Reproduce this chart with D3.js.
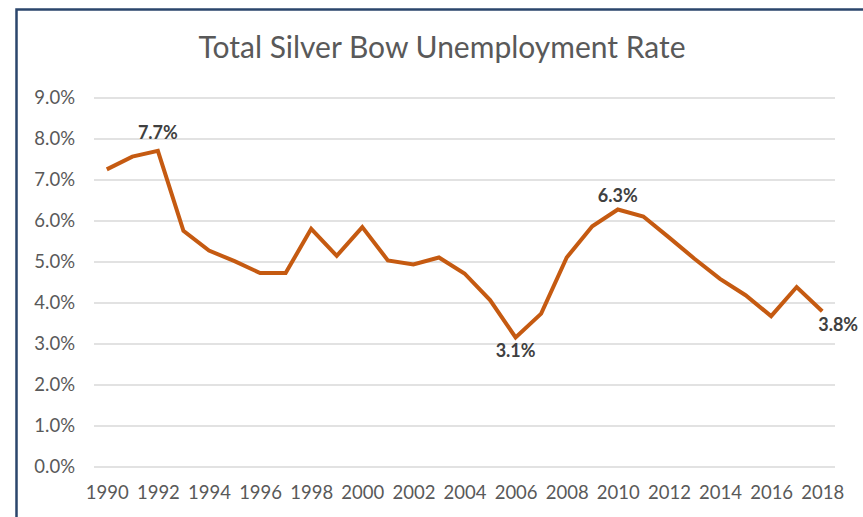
<!DOCTYPE html>
<html>
<head>
<meta charset="utf-8">
<script src="https://cdn.jsdelivr.net/npm/d3@7"></script>
<style>
  body { margin: 0; background: #fff; }
  svg { display: block; font-family: Lato, "Open Sans", sans-serif; }
</style>
</head>
<body>
<div id="chart"></div>
<script>
const years = d3.range(1990, 2019);
const rates = [7.26, 7.57, 7.71, 5.76, 5.28, 5.02, 4.73, 4.73, 5.81, 5.15,
               5.85, 5.04, 4.94, 5.11, 4.72, 4.07, 3.16, 3.74, 5.11, 5.87,
               6.28, 6.11, 5.60, 5.08, 4.59, 4.19, 3.68, 4.39, 3.80];
const yTicks = [0, 1, 2, 3, 4, 5, 6, 7, 8, 9];
const xTickYears = d3.range(1990, 2019, 2);
const calloutYears = [1992, 2006, 2010, 2018];
const calloutTexts = ["7.7%", "3.1%", "6.3%", "3.8%"];

const W = 863, H = 517;
const margin = { top: 98, right: 28, bottom: 50, left: 94 };
const width = W - margin.left - margin.right;
const height = 467 - margin.top;

// label placement, Excel style: above / below / below-right of the point
const calloutPlacement = {
    1992: { dx: 0, dy: -12, anchor: "middle" },
    2006: { dx: 0, dy: 20, anchor: "middle" },
    2010: { dx: 0, dy: -8, anchor: "middle" },
    2018: { dx: -4, dy: 20, anchor: "start" }
};

const root = d3.select("#chart")
    .append("svg")
    .attr("width", W)
    .attr("height", H);

// frame (only top and left edges are visible in the crop)
root.append("path")
    .attr("d", `M16.5,${H + 5} V9.5 H${W + 5}`)
    .attr("fill", "none")
    .attr("stroke", "#2b466c")
    .attr("stroke-width", 2.5);

root.append("text")
    .attr("x", 442)
    .attr("y", 58)
    .attr("text-anchor", "middle")
    .style("font-size", "30px")
    .style("fill", "#595959")
    .text("Total Silver Bow Unemployment Rate");

const svg = root.append("g")
    .attr("transform", `translate(${margin.left},${margin.top})`);

const x = d3.scalePoint()
    .domain(years)
    .range([0, width])
    .padding(0.5);

const y = d3.scaleLinear()
    .domain([0, 9])
    .range([height, 0]);

// gridlines
svg.selectAll(".grid")
    .data(yTicks)
    .enter()
    .append("line")
    .attr("x1", 0)
    .attr("x2", width)
    .attr("y1", d => y(d))
    .attr("y2", d => y(d))
    .attr("stroke", "#d9d9d9")
    .attr("stroke-width", 1.5);

// y axis labels
const yAxis = svg.append("g")
    .call(d3.axisLeft(y).tickValues(yTicks).tickFormat(d => d.toFixed(1) + "%").tickSize(0).tickPadding(19));
yAxis.select(".domain").remove();
yAxis.selectAll("text")
    .style("font-family", "Lato, sans-serif")
    .style("font-size", "18.5px")
    .style("fill", "#595959");

// x axis labels
const xAxis = svg.append("g")
    .attr("transform", `translate(0,${height})`)
    .call(d3.axisBottom(x).tickValues(xTickYears).tickSize(0).tickPadding(19));
xAxis.select(".domain").remove();
xAxis.selectAll("text")
    .style("font-family", "Lato, sans-serif")
    .style("font-size", "18.5px")
    .style("fill", "#595959");

const line = d3.line()
    .x((d, i) => x(years[i]))
    .y(d => y(d));

svg.append("path")
    .datum(rates)
    .attr("fill", "none")
    .attr("stroke", "#c55a11")
    .attr("stroke-width", 4)
    .attr("stroke-linejoin", "miter")
    .attr("d", line);

// data labels
svg.selectAll(".callout")
    .data(calloutYears)
    .enter()
    .append("text")
    .attr("x", d => x(d) + calloutPlacement[d].dx)
    .attr("y", d => y(rates[years.indexOf(d)]) + calloutPlacement[d].dy)
    .attr("text-anchor", d => calloutPlacement[d].anchor)
    .style("font-size", "18px")
    .style("font-weight", "bold")
    .style("fill", "#404040")
    .text((d, i) => calloutTexts[i]);
</script>
</body>
</html>
